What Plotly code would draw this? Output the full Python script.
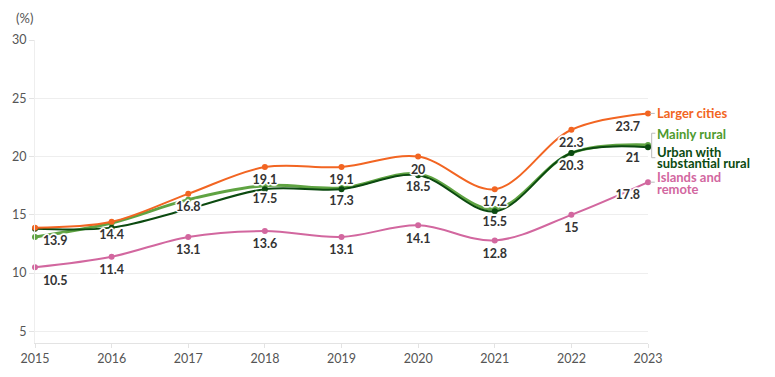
import plotly.graph_objects as go

years = [2015, 2016, 2017, 2018, 2019, 2020, 2021, 2022, 2023]
larger_cities = [13.9, 14.4, 16.8, 19.1, 19.1, 20.0, 17.2, 22.3, 23.7]
mainly_rural = [13.1, 14.3, 16.3, 17.5, 17.3, 18.5, 15.5, 20.3, 21.0]
urban_rural = [13.8, 13.9, 15.5, 17.2, 17.2, 18.4, 15.3, 20.3, 20.8]
islands_remote = [10.5, 11.4, 13.1, 13.6, 13.1, 14.1, 12.8, 15.0, 17.8]

# which points carry value labels
label_larger = [True] * 9
label_rural = [False, False, False, True, True, True, True, True, True]
label_islands = [True] * 9

colors = {"Larger cities": "#f26522", "Mainly rural": "#4e9a2e",
          "Urban with substantial rural": "#0b4a10", "Islands and remote": "#d2679f"}

y_ticks = [5, 10, 15, 20, 25, 30]

def fmt(v):
    return ("%g" % v)

def textpos(n):
    out = []
    for i in range(n):
        if i == 0:
            out.append("bottom right")
        elif i == n - 1:
            out.append("bottom left")
        else:
            out.append("bottom center")
    return out

halo = ("white 1px 1px 0px, white -1px -1px 0px, white 1px -1px 0px, white -1px 1px 0px, "
        "white 2px 0px 1px, white -2px 0px 1px, white 0px 2px 1px, white 0px -2px 1px")
label_font = dict(family="Lato", size=12.5, color="#333333", weight="bold", shadow=halo)

fig = go.Figure()

def add_series(name, vals, width=2.0, opacity=1.0):
    fig.add_trace(go.Scatter(
        x=years, y=vals, name=name, mode="lines+markers",
        line=dict(color=colors[name], width=width, shape="spline", smoothing=1.0),
        marker=dict(color=colors[name], size=6),
        opacity=opacity, cliponaxis=False, hoverinfo="x+y+name"))

def add_labels(vals, flags):
    fig.add_trace(go.Scatter(
        x=years, y=vals, mode="markers+text",
        marker=dict(size=11, opacity=0),
        text=[fmt(v) if f else "" for v, f in zip(vals, flags)],
        textposition=textpos(len(vals)), textfont=label_font,
        cliponaxis=False, hoverinfo="skip", showlegend=False))

add_series("Islands and remote", islands_remote)
add_series("Mainly rural", mainly_rural, width=3.0, opacity=0.9)
add_series("Urban with substantial rural", urban_rural)
add_series("Larger cities", larger_cities)
add_labels(islands_remote, label_islands)
add_labels(mainly_rural, label_rural)
add_labels(larger_cities, label_larger)

ann = []
end_labels = [
    ("Larger cities", larger_cities[-1], colors["Larger cities"]),
    ("Mainly rural", 21.9, colors["Mainly rural"]),
    ("Urban with", 20.42, colors["Urban with substantial rural"]),
    ("substantial rural", 19.42, colors["Urban with substantial rural"]),
    ("Islands and", 18.22, colors["Islands and remote"]),
    ("remote", 17.22, colors["Islands and remote"]),
]
for t, yv, c in end_labels:
    ann.append(dict(x=1, xref="paper", xanchor="left", xshift=7, y=yv, yref="y",
                    yanchor="middle", text=t, showarrow=False,
                    font=dict(family="Lato", size=13, color=c, weight="bold")))

ann.append(dict(x=0, xref="paper", xanchor="right", xshift=0, y=1, yref="paper",
                yanchor="middle", yshift=22, text="(%)", showarrow=False,
                font=dict(family="Lato", size=13, color="#555555")))

gray = "#bbbbbb"
shapes = [
    dict(type="line", xref="paper", yref="y", x0=1.003, x1=1.011,
         y0=larger_cities[-1], y1=larger_cities[-1], line=dict(color=gray, width=1)),
    dict(type="line", xref="paper", yref="y", x0=1.006, x1=1.006,
         y0=19.9, y1=22.0, line=dict(color=gray, width=1)),
    dict(type="line", xref="paper", yref="y", x0=1.006, x1=1.012,
         y0=22.0, y1=22.0, line=dict(color=gray, width=1)),
    dict(type="line", xref="paper", yref="y", x0=1.006, x1=1.012,
         y0=19.9, y1=19.9, line=dict(color=gray, width=1)),
    dict(type="line", xref="paper", yref="y", x0=1.003, x1=1.011,
         y0=islands_remote[-1], y1=islands_remote[-1], line=dict(color=gray, width=1)),
]

fig.update_layout(
    width=767, height=369,
    margin=dict(l=27, r=127, t=32, b=34, autoexpand=False),
    paper_bgcolor="white", plot_bgcolor="white",
    showlegend=False,
    annotations=ann, shapes=shapes,
    font=dict(family="Lato", size=12, color="#555555"),
)
fig.update_xaxes(range=[2015, 2023], tickvals=years, ticktext=[str(y) for y in years],
                 showgrid=False, showline=True, linecolor="#e3e3e3", linewidth=1,
                 ticks="outside", ticklen=4, tickcolor="#e3e3e3", automargin=False,
                 tickfont=dict(family="Lato", size=12.5, color="#555555"), zeroline=False)
fig.update_yaxes(range=[4, 30], tickvals=y_ticks, showgrid=True, gridcolor="#eeeeee",
                 showline=True, linecolor="#eeeeee", ticks="outside", ticklen=5,
                 tickcolor="#e3e3e3", automargin=False,
                 tickfont=dict(family="Lato", size=12.5, color="#555555"),
                 zeroline=False)

fig.write_html("out.html")
